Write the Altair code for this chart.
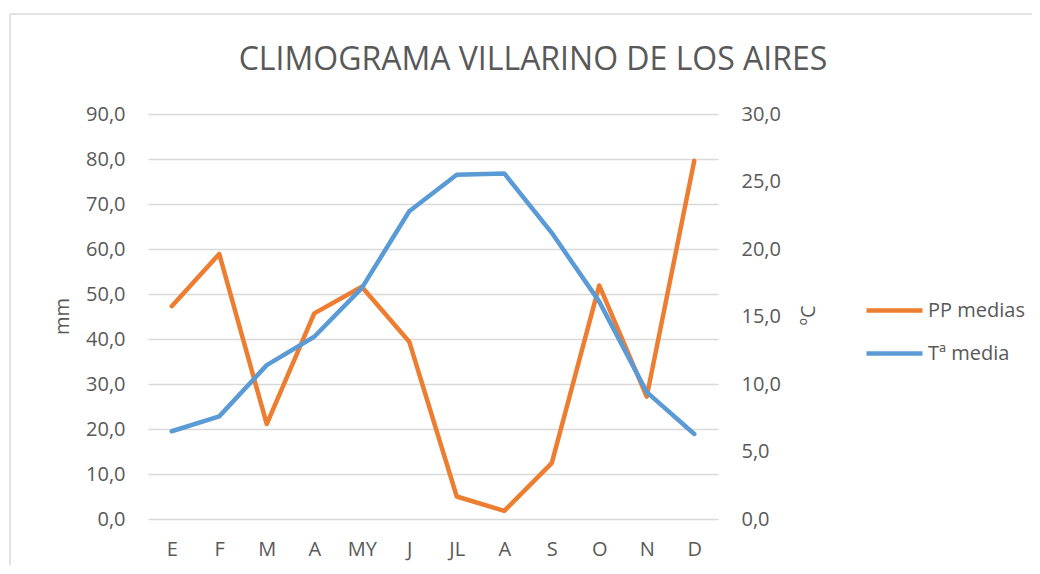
import altair as alt
import pandas as pd

meses = ["E", "F", "M", "A", "MY", "J", "JL", "A", "S", "O", "N", "D"]
pp_medias = [47.3, 58.9, 21.1, 45.7, 51.6, 39.4, 5.0, 1.8, 12.4, 51.9, 27.2, 79.6]
t_media = [6.5, 7.6, 11.4, 13.5, 17.1, 22.8, 25.5, 25.6, 21.2, 16.1, 9.4, 6.3]
pp_ticks = [0, 10, 20, 30, 40, 50, 60, 70, 80, 90]
t_ticks = [0, 5, 10, 15, 20, 25, 30]
series = ["PP medias", "Tª media"]
colors = ["#ED7D31", "#5B9BD5"]
titulo = "CLIMOGRAMA VILLARINO DE LOS AIRES"

FONT = "Open Sans"
GREY = "#595959"

df = pd.DataFrame({"i": list(range(12)), "mes": meses, "pp": pp_medias, "t": t_media})

label_expr = "[" + ",".join("'%s'" % m for m in meses) + "][datum.value]"

x = alt.X("i:O", title=None, sort=None,
          axis=alt.Axis(labelExpr=label_expr, labelAngle=0, grid=False, domain=False,
                        ticks=False, labelPadding=20, labelFontSize=20, labelFont=FONT,
                        labelColor=GREY))

color = alt.Color("serie:N", scale=alt.Scale(domain=series, range=colors),
                  legend=alt.Legend(title=None, orient="none", legendX=716, legendY=166,
                                    symbolType="stroke", symbolSize=3136, symbolStrokeWidth=4.5,
                                    labelFont=FONT, labelFontSize=20, labelColor=GREY,
                                    labelOffset=3, rowPadding=2, padding=0))

base = alt.Chart(df)

pp_line = base.transform_calculate(serie="'PP medias'").mark_line(
    strokeWidth=4.5, strokeCap="round", strokeJoin="round"
).encode(
    x=x,
    y=alt.Y("pp:Q", scale=alt.Scale(domain=[0, 90], nice=False),
            axis=alt.Axis(orient="left", values=pp_ticks, title="mm",
                          labelExpr="replace(format(datum.value,'.1f'),'.',',')",
                          grid=True, gridColor="#D9D9D9", gridWidth=1.3, domain=False,
                          ticks=False, labelPadding=23, labelFontSize=20, labelFont=FONT,
                          labelColor=GREY, titleFont=FONT, titleFontSize=20,
                          titleFontWeight="normal", titleColor=GREY, titleX=-86, titleY=202,
                          titleAngle=-90, titleAlign="center", titleBaseline="middle")),
    color=color,
)

t_line = base.transform_calculate(serie="'Tª media'").mark_line(
    strokeWidth=4.5, strokeCap="round", strokeJoin="round"
).encode(
    x=x,
    y=alt.Y("t:Q", scale=alt.Scale(domain=[0, 30], nice=False),
            axis=alt.Axis(orient="right", values=t_ticks, title="ºC",
                          labelExpr="replace(format(datum.value,'.1f'),'.',',')",
                          grid=False, domain=False, ticks=False, labelPadding=23,
                          labelFontSize=20, labelFont=FONT, labelColor=GREY,
                          titleFont=FONT, titleFontSize=20, titleFontWeight="normal",
                          titleColor=GREY, titleX=90, titleY=201, titleAngle=-90,
                          titleAlign="center", titleBaseline="middle")),
    color=color,
)

one = alt.Data(values=[{"k": 1}])
frame_top = alt.Chart(one).mark_rule(color="#D9D9D9", strokeWidth=1.5).encode(
    x=alt.value(-138), x2=alt.value(900), y=alt.value(-100))
frame_left = alt.Chart(one).mark_rule(color="#D9D9D9", strokeWidth=1.5).encode(
    x=alt.value(-138), y=alt.value(-100), y2=alt.value(470))
title_txt = alt.Chart(one).mark_text(
    text=titulo, font=FONT, fontSize=32, color=GREY, align="center", baseline="alphabetic"
).encode(x=alt.value(385), y=alt.value(-44))

chart = alt.layer(frame_top, frame_left, title_txt, pp_line, t_line).resolve_scale(
    y="independent"
).properties(
    width=570, height=405,
    autosize=alt.AutoSizeParams(type="none"),
    padding={"left": 140, "top": 106, "right": 314, "bottom": 46},
).configure_view(stroke=None)

chart.save("out.html", embed_options={"renderer": "svg", "actions": False})
